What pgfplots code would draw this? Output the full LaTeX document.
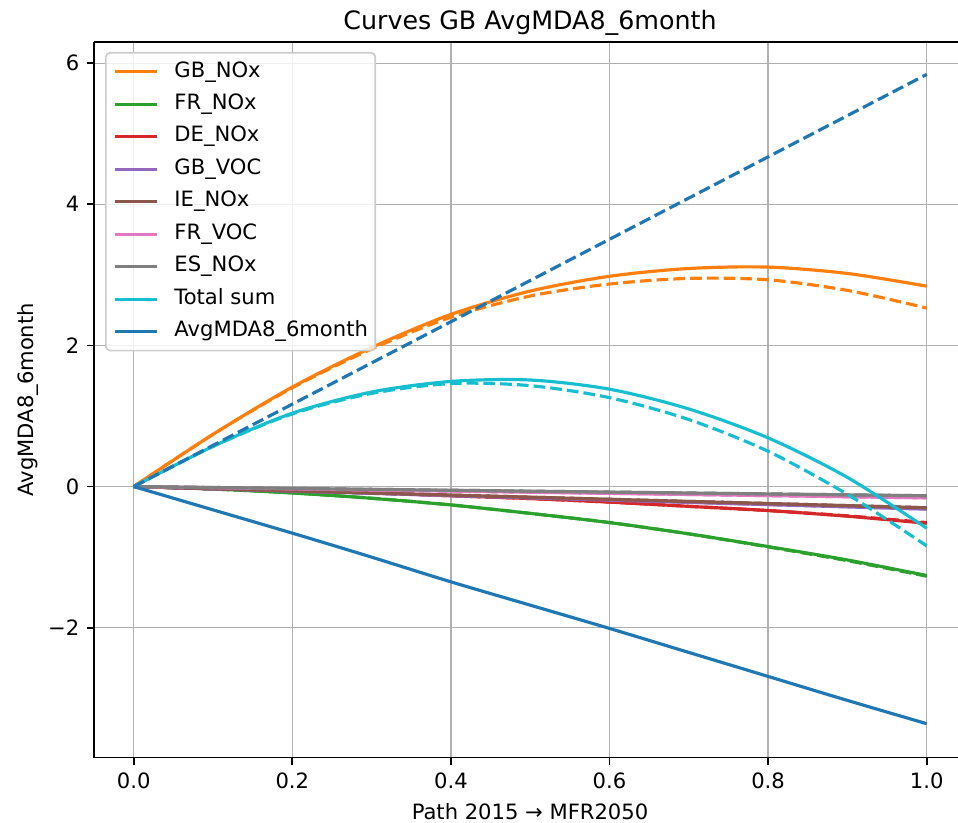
\documentclass[border=0pt]{standalone}
\usepackage{fontspec}
\setmainfont{DejaVu Sans}
\usepackage{pgfplots}
\usepackage{pgfplotstable}
\pgfplotsset{compat=1.18}
\definecolor{tblue}{HTML}{1F77B4}
\definecolor{torange}{HTML}{FF7F0E}
\definecolor{tgreen}{HTML}{2CA02C}
\definecolor{tred}{HTML}{D62728}
\definecolor{tpurple}{HTML}{9467BD}
\definecolor{tbrown}{HTML}{8C564B}
\definecolor{tpink}{HTML}{E377C2}
\definecolor{tgray}{HTML}{7F7F7F}
\definecolor{tcyan}{HTML}{17BECF}
\definecolor{gridgray}{HTML}{B0B0B0}
\definecolor{leggray}{HTML}{CCCCCC}

\pgfplotstableread{
x    gbnox gbnoxd frnox  frnoxd denox denoxd gbvoc  gbvocd ienox ienoxd frvoc  frvocd esnox  esnoxd total totald avg   avgd
0.0  0     0      0      0      0     0      0      0      0     0      0      0      0      0      0     0      0     0
0.1  0.74  0.74   -0.035 -0.035 -0.03 -0.03  -0.032 -0.032 -0.03 -0.03  -0.016 -0.016 -0.013 -0.013 0.57  0.57   -0.33 0.584
0.2  1.41  1.40   -0.09  -0.09  -0.06 -0.06  -0.064 -0.064 -0.06 -0.06  -0.032 -0.032 -0.026 -0.026 1.04  1.03   -0.66 1.168
0.3  1.97  1.95   -0.166 -0.165 -0.09 -0.09  -0.096 -0.095 -0.09 -0.09  -0.048 -0.048 -0.039 -0.039 1.34  1.32   -1.00 1.752
0.4  2.44  2.40   -0.26  -0.26  -0.13 -0.13  -0.128 -0.127 -0.12 -0.12  -0.064 -0.064 -0.052 -0.052 1.49  1.46   -1.35 2.336
0.5  2.77  2.70   -0.38  -0.38  -0.17 -0.17  -0.16  -0.159 -0.15 -0.15  -0.08  -0.08  -0.065 -0.065 1.51  1.43   -1.68 2.92
0.6  2.98  2.87   -0.51  -0.51  -0.22 -0.22  -0.192 -0.19  -0.18 -0.18  -0.096 -0.096 -0.078 -0.078 1.38  1.26   -2.01 3.504
0.7  3.09  2.95   -0.67  -0.67  -0.28 -0.28  -0.224 -0.222 -0.21 -0.21  -0.112 -0.112 -0.091 -0.091 1.10  0.95   -2.35 4.088
0.8  3.11  2.93   -0.85  -0.855 -0.34 -0.34  -0.256 -0.254 -0.24 -0.24  -0.128 -0.128 -0.104 -0.104 0.69  0.50   -2.69 4.672
0.9  3.02  2.78   -1.04  -1.05  -0.42 -0.415 -0.288 -0.285 -0.27 -0.27  -0.144 -0.144 -0.117 -0.117 0.13  -0.11  -3.03 5.256
1.0  2.84  2.53   -1.26  -1.27  -0.52 -0.51  -0.32  -0.317 -0.30 -0.30  -0.16  -0.16  -0.13  -0.13  -0.59 -0.84  -3.36 5.84
}\data

\begin{document}
\begin{tikzpicture}
\begin{axis}[
  at={(0,0)}, anchor=south west,
  scale only axis, width=409.5pt, height=339.2pt,
  xmin=-0.05, xmax=1.0395, ymin=-3.84, ymax=6.30,
  axis x line*=box, axis y line*=left,
  xtick={0,0.2,0.4,0.6,0.8,1.0}, xticklabels={0.0,0.2,0.4,0.6,0.8,1.0},
  ytick={-2,0,2,4,6}, yticklabels={−2,0,2,4,6},
  tick align=outside, major tick length=3.5pt,
  xtick pos=bottom, ytick pos=left,
  tick style={black, line width=0.8pt},
  axis line style={black, line width=0.8pt},
  grid=major, major grid style={color=gridgray, line width=0.6pt},
  ticklabel style={font=\fontsize{10}{12}\selectfont},
  every axis title shift=0pt,
  title={Curves GB AvgMDA8\_6month},
  title style={at={(axis description cs:0.5046,1.0168)}, anchor=base, inner sep=0pt, font=\fontsize{12}{14}\selectfont},
  xlabel={Path 2015 → MFR2050},
  xlabel style={at={(axis description cs:0.5046,-0.0867)}, anchor=base, inner sep=0pt, font=\fontsize{10}{12}\selectfont},
  ylabel={AvgMDA8\_6month},
  ylabel style={at={(axis description cs:-0.0706,0.5)}, anchor=base, inner sep=0pt, font=\fontsize{10}{12}\selectfont},
  legend cell align=left,
  legend style={at={(axis description cs:0.0127,0.9861)}, anchor=north west,
    draw=leggray, line width=0.8pt, rounded corners=2pt, fill=white, fill opacity=0.8, text opacity=1,
    font=\fontsize{10}{12}\selectfont, inner xsep=3.5pt, inner ysep=4pt, row sep=5.4pt, column sep=7.5pt,
    nodes={inner sep=0pt, text height=7.5pt, text depth=2.5pt}},
  legend image code/.code={\draw[#1, line width=1.5pt, solid] (0pt,0pt) -- (20pt,0pt);},
  every axis plot/.append style={line width=1.5pt, line join=round, smooth},
  dsh/.style={dash pattern=on 5.55pt off 2.4pt},
]
\addplot[torange] table[x=x,y=gbnox]{\data}; \addlegendentry{GB\_NOx}
\addplot[torange,dsh,forget plot] table[x=x,y=gbnoxd]{\data};
\addplot[tgreen] table[x=x,y=frnox]{\data}; \addlegendentry{FR\_NOx}
\addplot[tgreen,dsh,forget plot] table[x=x,y=frnoxd]{\data};
\addplot[tred] table[x=x,y=denox]{\data}; \addlegendentry{DE\_NOx}
\addplot[tred,dsh,forget plot] table[x=x,y=denoxd]{\data};
\addplot[tpurple] table[x=x,y=gbvoc]{\data}; \addlegendentry{GB\_VOC}
\addplot[tpurple,dsh,forget plot] table[x=x,y=gbvocd]{\data};
\addplot[tbrown] table[x=x,y=ienox]{\data}; \addlegendentry{IE\_NOx}
\addplot[tbrown,dsh,forget plot] table[x=x,y=ienoxd]{\data};
\addplot[tpink] table[x=x,y=frvoc]{\data}; \addlegendentry{FR\_VOC}
\addplot[tpink,dsh,forget plot] table[x=x,y=frvocd]{\data};
\addplot[tgray] table[x=x,y=esnox]{\data}; \addlegendentry{ES\_NOx}
\addplot[tgray,dsh,forget plot] table[x=x,y=esnoxd]{\data};
\addplot[tcyan] table[x=x,y=total]{\data}; \addlegendentry{Total sum}
\addplot[tcyan,dsh,forget plot] table[x=x,y=totald]{\data};
\addplot[tblue] table[x=x,y=avg]{\data}; \addlegendentry{AvgMDA8\_6month}
\addplot[tblue,dsh,forget plot] table[x=x,y=avgd]{\data};
\end{axis}
\pgfresetboundingbox
\path[use as bounding box] (-44.6pt,-31.0pt) rectangle (409.5pt,359.1pt);
\end{tikzpicture}
\end{document}
